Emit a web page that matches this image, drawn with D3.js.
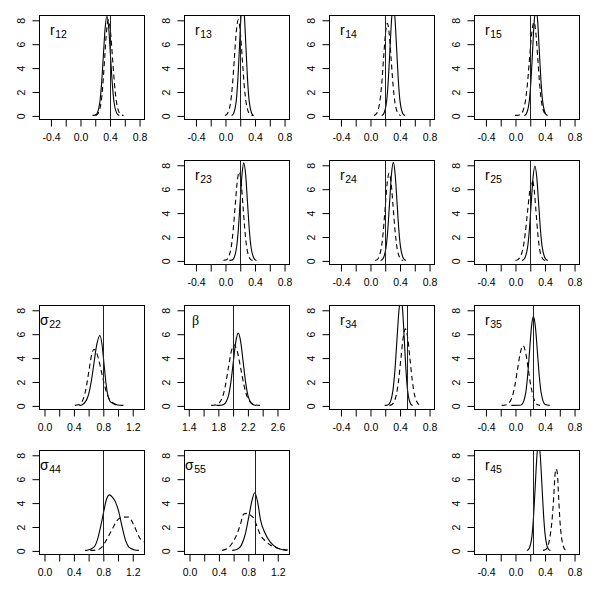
<!DOCTYPE html>
<html><head><meta charset="utf-8">
<script src="https://cdn.jsdelivr.net/npm/d3@7/dist/d3.min.js"></script>
<style>body{margin:0;background:#fff} svg{display:block}</style>
</head><body>
<script>
// ---------- data ----------
const panelSymbols = ["r","r","r","r","r","r","r","σ","β","r","r","σ","σ","r"];
const panelSubs    = ["12","13","14","15","23","24","25","22","","34","35","44","55","45"];
const panelRows    = [0,0,0,0,1,1,1,2,2,2,2,3,3,3];
const panelCols    = [0,1,2,3,1,2,3,0,1,2,3,0,1,3];
const panelKinds   = ["r","r","r","r","r","r","r","s","b","r","r","s","s","r"];
const trueValues   = [0.4,0.2,0.2,0.2,0.2,0.2,0.2,0.8,2.0,0.5,0.25,0.8,0.9,0.25];

const rTicks = [-0.4,-0.2,0.0,0.2,0.4,0.6,0.8];
const rTickLabels = ["-0.4","","0.0","","0.4","","0.8"];
const sTicks = [0.0,0.2,0.4,0.6,0.8,1.0,1.2];
const sTickLabels = ["0.0","","0.4","","0.8","","1.2"];
const bTicks = [1.4,1.6,1.8,2.0,2.2,2.4,2.6];
const bTickLabels = ["1.4","","1.8","","2.2","","2.6"];
const yTicks = [0,2,4,6,8];
const yTickLabels = ["0","2","4","6","8"];

// density curves: [x, density]
const r12Solid  = [[0.17,0],[0.197,0.02],[0.221,0.08],[0.269,1.12],[0.293,2.7],[0.317,5.04],[0.341,7.32],[0.365,8.3],[0.389,7.32],[0.413,5.04],[0.437,2.7],[0.461,1.12],[0.509,0.08],[0.533,0]];
const r12Dashed = [[0.21,0],[0.235,0.08],[0.285,1.08],[0.31,2.6],[0.335,4.86],[0.36,7.06],[0.385,8.0],[0.4125,7.06],[0.44,4.86],[0.4675,2.6],[0.495,1.08],[0.55,0.08],[0.59,0]];
const r13Solid  = [[0.09,0],[0.111,0.1],[0.154,1.3],[0.1755,3.12],[0.197,5.83],[0.2185,8.47],[0.24,9.6],[0.2615,8.47],[0.283,5.83],[0.3045,3.12],[0.326,1.3],[0.369,0.1],[0.39,0]];
const r13Dashed = [[0.0,0],[0.024,0.08],[0.076,1.08],[0.102,2.6],[0.128,4.86],[0.154,7.06],[0.18,8.0],[0.2065,7.06],[0.233,4.86],[0.2595,2.6],[0.286,1.08],[0.339,0.08],[0.38,0]];
const r14Solid  = [[0.1585,0],[0.181,0.09],[0.226,1.24],[0.2485,2.99],[0.271,5.58],[0.2935,8.11],[0.316,9.2],[0.3385,8.11],[0.361,5.58],[0.3835,2.99],[0.406,1.24],[0.451,0.09],[0.4735,0]];
const r14Dashed = [[0.053,0],[0.079,0.08],[0.131,1.04],[0.157,2.5],[0.183,4.67],[0.209,6.79],[0.235,7.7],[0.261,6.79],[0.287,4.67],[0.313,2.5],[0.339,1.04],[0.391,0.08],[0.417,0]];
const r15Solid  = [[0.1265,0],[0.149,0.09],[0.194,1.22],[0.2165,2.93],[0.239,5.46],[0.2615,7.94],[0.284,9.0],[0.3065,7.94],[0.329,5.46],[0.3515,2.93],[0.374,1.22],[0.419,0.09],[0.4415,0]];
const r15Dashed = [[0.0,0],[0.047,0.02],[0.077,0.08],[0.137,1.05],[0.167,2.54],[0.197,4.73],[0.227,6.88],[0.257,7.8],[0.283,6.88],[0.309,4.73],[0.335,2.54],[0.361,1.05],[0.413,0.08],[0.439,0]];
const r23Solid  = [[0.06,0],[0.0835,0.02],[0.108,0.08],[0.157,1.1],[0.1815,2.65],[0.206,4.95],[0.2305,7.2],[0.255,8.16],[0.2795,7.2],[0.304,4.95],[0.3285,2.65],[0.353,1.1],[0.402,0.08],[0.4265,0]];
const r23Dashed = [[-0.02,0],[0.025,0.07],[0.081,1.0],[0.109,2.4],[0.137,4.49],[0.165,6.53],[0.193,7.4],[0.219,6.53],[0.245,4.49],[0.271,2.4],[0.297,1.0],[0.349,0.07],[0.375,0]];
const r24Solid  = [[0.1445,0],[0.169,0.08],[0.218,1.11],[0.2425,2.67],[0.267,4.98],[0.2915,7.23],[0.316,8.2],[0.3405,7.23],[0.365,4.98],[0.3895,2.67],[0.414,1.11],[0.463,0.08],[0.4875,0]];
const r24Dashed = [[0.071,0],[0.098,0.07],[0.152,0.99],[0.179,2.37],[0.206,4.43],[0.233,6.44],[0.26,7.3],[0.287,6.44],[0.314,4.43],[0.341,2.37],[0.368,0.99],[0.422,0.07],[0.449,0]];
const r25Solid  = [[0.095,0],[0.12,0.08],[0.17,1.07],[0.195,2.57],[0.22,4.8],[0.245,6.97],[0.27,7.9],[0.295,6.97],[0.32,4.8],[0.345,2.57],[0.37,1.07],[0.42,0.08],[0.445,0]];
const r25Dashed = [[0.0075,0],[0.04,0.07],[0.105,0.9],[0.1375,2.18],[0.17,4.07],[0.2025,5.91],[0.235,6.7],[0.26,5.91],[0.285,4.07],[0.31,2.18],[0.335,0.9],[0.385,0.07],[0.41,0]];
const s22Solid  = [[0.48,0],[0.52,0.06],[0.60,0.79],[0.64,1.9],[0.68,3.55],[0.72,5.16],[0.76,5.85],[0.7875,5.16],[0.815,3.55],[0.8425,1.9],[0.87,0.79],[0.8975,0.35],[0.93,0.2],[0.98,0.08],[1.03,0.02],[1.08,0]];
const s22Dashed = [[0.42,0],[0.47,0.05],[0.54,0.63],[0.575,1.53],[0.61,2.85],[0.645,4.15],[0.68,4.7],[0.73,4.15],[0.78,2.85],[0.83,1.53],[0.88,0.63],[0.94,0.2],[0.99,0]];
const betaSolid  = [[1.78,0],[1.845,0.02],[1.878,0.07],[1.944,0.82],[1.977,1.97],[2.01,3.67],[2.043,5.34],[2.076,6.05],[2.109,5.34],[2.142,3.67],[2.175,1.97],[2.208,0.82],[2.274,0.07],[2.32,0]];
const betaDashed = [[1.71,0],[1.7435,0.02],[1.783,0.06],[1.862,0.68],[1.9015,1.65],[1.941,3.08],[1.9805,4.47],[2.02,5.07],[2.065,4.47],[2.11,3.08],[2.155,1.65],[2.2,0.68],[2.29,0.06],[2.37,0]];
const r34Solid  = [[0.2,0],[0.2275,0.02],[0.255,0.09],[0.31,1.22],[0.3375,2.93],[0.365,5.46],[0.3925,7.94],[0.42,9.0],[0.4425,7.94],[0.465,5.46],[0.4875,2.93],[0.51,1.22],[0.555,0.09],[0.5775,0]];
const r34Dashed = [[0.263,0],[0.294,0.06],[0.356,0.86],[0.387,2.08],[0.418,3.88],[0.449,5.64],[0.48,6.4],[0.511,5.64],[0.542,3.88],[0.573,2.08],[0.604,0.86],[0.666,0.06],[0.697,0]];
const r35Solid  = [[-0.05,0],[0.0645,0.01],[0.091,0.07],[0.144,1.0],[0.1705,2.42],[0.197,4.52],[0.2235,6.57],[0.25,7.45],[0.2765,6.57],[0.303,4.52],[0.3295,2.42],[0.356,1.0],[0.409,0.07],[0.47,0]];
const r35Dashed = [[-0.18,0],[-0.1525,0.01],[-0.115,0.05],[-0.04,0.68],[-0.0025,1.63],[0.035,3.04],[0.0725,4.41],[0.11,5.0],[0.145,4.41],[0.18,3.04],[0.215,1.63],[0.25,0.68],[0.3,0.08],[0.34,0]];
const s44Solid  = [[0.56,0],[0.588,0.02],[0.679,0.28],[0.724,0.84],[0.769,1.95],[0.814,3.3],[0.851,4.3],[0.891,4.65],[0.93,4.45],[0.973,4.04],[1.018,3.2],[1.063,1.95],[1.109,0.84],[1.154,0.28],[1.222,0.06],[1.29,0]];
const s44Dashed = [[0.63,0],[0.724,0.05],[0.79,0.3],[0.86,1.0],[0.93,1.8],[0.973,2.3],[1.018,2.65],[1.086,2.78],[1.154,2.8],[1.222,2.1],[1.31,0.97],[1.367,0.7],[1.42,0.45]];
const s55Solid  = [[0.587,0],[0.655,0.1],[0.709,0.4],[0.767,1.4],[0.813,2.8],[0.858,4.2],[0.894,4.82],[0.935,4.0],[0.971,2.6],[1.038,1.4],[1.106,0.7],[1.196,0.22],[1.287,0.03],[1.33,0]];
const s55Dashed = [[0.451,0],[0.519,0.15],[0.587,0.6],[0.655,1.4],[0.7,2.2],[0.745,3.05],[0.79,3.1],[0.835,2.95],[0.88,2.7],[0.925,2.0],[0.97,1.3],[1.038,0.8],[1.106,0.45],[1.196,0.2],[1.287,0.08],[1.354,0.03]];
const r45Solid  = [[0.16,0],[0.185,0.09],[0.23,1.22],[0.2525,2.93],[0.275,5.46],[0.2975,7.94],[0.32,9.0],[0.3425,7.94],[0.365,5.46],[0.3875,2.93],[0.41,1.22],[0.455,0.09],[0.48,0]];
const r45Dashed = [[0.38,0],[0.42,0.1],[0.47,1.0],[0.5,2.4],[0.525,4.5],[0.545,6.5],[0.56,6.8],[0.575,6.4],[0.59,4.6],[0.61,2.4],[0.635,0.9],[0.68,0.05],[0.7,0]];

const solidCurves  = [r12Solid,r13Solid,r14Solid,r15Solid,r23Solid,r24Solid,r25Solid,s22Solid,betaSolid,r34Solid,r35Solid,s44Solid,s55Solid,r45Solid];
const dashedCurves = [r12Dashed,r13Dashed,r14Dashed,r15Dashed,r23Dashed,r24Dashed,r25Dashed,s22Dashed,betaDashed,r34Dashed,r35Dashed,s44Dashed,s55Dashed,r45Dashed];

// ---------- layout ----------
const W = 601, H = 594;
const boxLeft0 = 39, boxTop0 = 15, stepX = 145, stepY = 145, boxW = 105, boxH = 104;
const xDomains = { r: [-0.555, 0.867], s: [-0.068, 1.36], b: [1.342, 2.763] };
const xTickSets = { r: [rTicks, rTickLabels], s: [sTicks, sTickLabels], b: [bTicks, bTickLabels] };
const labelDx = { r: 11, s: 1, b: 8 };
const font = "'Liberation Sans', Arial, Helvetica, sans-serif";

const svg = d3.select("body").append("svg").attr("width", W).attr("height", H)
  .style("font-family", font);
svg.append("rect").attr("width", W).attr("height", H).attr("fill", "#fff");

panelSymbols.forEach((sym, i) => {
  const kind = panelKinds[i];
  const left = boxLeft0 + panelCols[i] * stepX;
  const top = boxTop0 + panelRows[i] * stepY;
  const x = d3.scaleLinear().domain(xDomains[kind]).range([left, left + boxW]);
  const y = d3.scaleLinear().domain([-0.3, 8.4]).range([top + boxH, top]);
  const g = svg.append("g");

  const clipId = "clip" + i;
  svg.append("clipPath").attr("id", clipId).append("rect")
    .attr("x", left).attr("y", top).attr("width", boxW).attr("height", boxH);

  // axes
  const [ticks, labels] = xTickSets[kind];
  const xAxis = d3.axisBottom(x).tickValues(ticks).tickSize(7).tickSizeOuter(0)
    .tickFormat((d, k) => labels[k]);
  const gx = g.append("g").attr("transform", `translate(0.5,${top + boxH + 0.5})`).call(xAxis);
  gx.select(".domain").remove();
  gx.selectAll("line").attr("stroke", "#000");
  gx.selectAll("text").attr("font-size", 10.5).attr("fill", "#000").attr("dy", null).attr("y", 21.5);

  const yAxis = d3.axisLeft(y).tickValues(yTicks).tickSize(7).tickSizeOuter(0)
    .tickFormat((d, k) => yTickLabels[k]);
  const gy = g.append("g").attr("transform", `translate(${left + 0.5},0.5)`).call(yAxis);
  gy.select(".domain").remove();
  gy.selectAll("line").attr("stroke", "#000");
  gy.selectAll("text").attr("font-size", 10.5).attr("fill", "#000")
    .attr("x", null).attr("dy", null).attr("text-anchor", "middle")
    .attr("transform", "translate(-15,0) rotate(-90)");

  // curves
  const line = d3.line().x(d => x(d[0])).y(d => y(d[1])).curve(d3.curveMonotoneX);
  const cg = g.append("g").attr("clip-path", `url(#${clipId})`);
  cg.append("path").datum(dashedCurves[i]).attr("d", line)
    .attr("fill", "none").attr("stroke", "#000").attr("stroke-width", 1.1)
    .attr("stroke-dasharray", "5,3.5");
  cg.append("path").datum(solidCurves[i]).attr("d", line)
    .attr("fill", "none").attr("stroke", "#000").attr("stroke-width", 1.1);
  cg.append("line")
    .attr("x1", Math.round(x(trueValues[i])) + 0.5).attr("x2", Math.round(x(trueValues[i])) + 0.5)
    .attr("y1", top).attr("y2", top + boxH)
    .attr("stroke", "#222").attr("stroke-width", 1);

  // box
  g.append("rect").attr("x", left + 0.5).attr("y", top + 0.5)
    .attr("width", boxW).attr("height", boxH)
    .attr("fill", "none").attr("stroke", "#000").attr("stroke-width", 1);

  // panel label
  const t = g.append("text").attr("x", left + labelDx[kind]).attr("y", top + 19.5)
    .attr("fill", "#000");
  t.append("tspan").text(sym).attr("font-size", 14)
    .attr("font-family", kind === "b" ? "'Liberation Serif', serif" : font);
  if (panelSubs[i]) {
    t.append("tspan").text(panelSubs[i]).attr("font-size", 10.5).attr("dy", 3).attr("dx", 0.5);
  }
});
</script>
</body></html>
